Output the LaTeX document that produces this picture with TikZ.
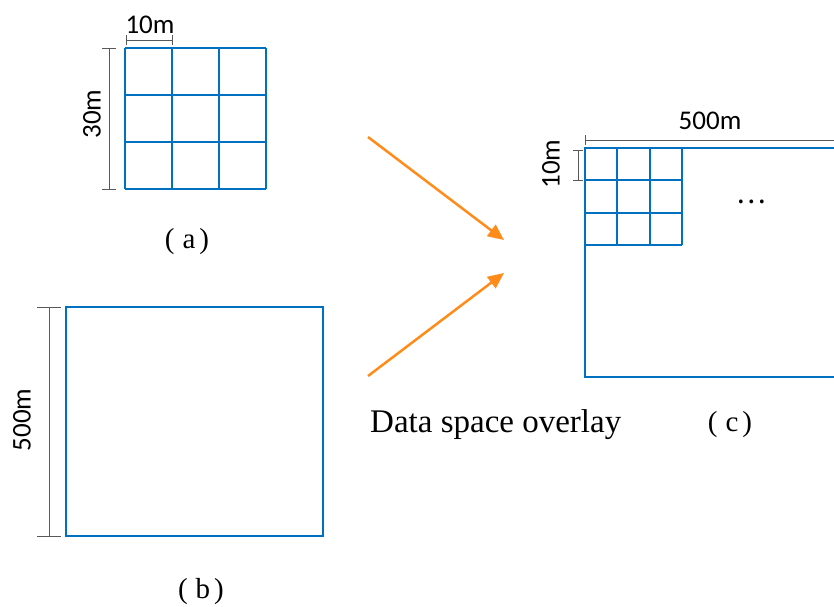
\documentclass[tikz,border=0pt]{standalone}
\usepackage{fontspec}
\setmainfont{Liberation Serif}
\newfontfamily\dimfont{Carlito}
\newfontfamily\cjk{Noto Sans CJK SC}
\usetikzlibrary{arrows.meta}
\definecolor{gridblue}{RGB}{0,112,192}
\definecolor{flow}{RGB}{255,140,26}
\definecolor{dimgray}{RGB}{89,89,89}
\tikzset{
  gridline/.style={draw=gridblue,line width=2pt},
  dimline/.style={draw=dimgray,line width=1pt},
  dimlabel/.style={font=\dimfont\fontsize{27}{31}\selectfont,inner sep=0pt},
  caption/.style={font=\fontsize{29}{33}\selectfont,inner sep=0pt},
  flowarrow/.style={draw=flow,line width=2.5pt,-{Triangle[length=16pt,width=14pt]}}
}
\newcommand{\fwpar}[1]{(\hspace{8pt}#1\hspace{4pt})}
\begin{document}
\begin{tikzpicture}[x=1pt,y=-1pt]
        \useasboundingbox (0,0) rectangle (834,606);

        % (a) 3x3 grid, 30m
        \coordinate (A1) at (125,48);
        \coordinate (A2) at (266,189);
        \foreach \i in {0,1,2,3} {
          \draw[gridline] (125+47*\i,48) -- (125+47*\i,189);
          \draw[gridline] (125,48+47*\i) -- (266,48+47*\i);
        }
        \coordinate (a10l) at (126,40);
        \coordinate (a10r) at (172,40);
        \draw[dimline] (a10l) -- (a10r);
        \draw[dimline] (a10l) ++(0,-5) -- ++(0,10);
        \draw[dimline] (a10r) ++(0,-5) -- ++(0,10);
        \node[dimlabel] (a10) at (150,25) {10m};

        \coordinate (a30t) at (109,48);
        \coordinate (a30b) at (109,189);
        \draw[dimline] (a30t) -- (a30b);
        \draw[dimline] (a30t) ++(-7,0) -- ++(14,0);
        \draw[dimline] (a30b) ++(-7,0) -- ++(14,0);
        \node[dimlabel,rotate=90] (a30) at (92,114) {30m};
        \node[caption] (capa) at (187,242) {\fwpar{a}};

        % (b) 500m block
        \coordinate (B1) at (66,307);
        \coordinate (B2) at (323,536);
        \draw[gridline] (B1) rectangle (B2);
        \coordinate (b500t) at (49,307);
        \coordinate (b500b) at (49,536);
        \draw[dimline] (b500t) -- (b500b);
        \draw[dimline] (b500t) ++(-12,0) -- ++(24,0);
        \draw[dimline] (b500b) ++(-12,0) -- ++(24,0);
        \node[dimlabel,rotate=90] (b500) at (22,420) {500m};
        \node[caption] (capb) at (201,592) {\fwpar{b}};

        % arrows
        \coordinate (ar1s) at (368,137);
        \coordinate (ar1e) at (504,240);
        \coordinate (ar2s) at (368,376);
        \coordinate (ar2e) at (504,273);
        \draw[flowarrow] (ar1s) -- (ar1e);
        \draw[flowarrow] (ar2s) -- (ar2e);
        \node[font=\fontsize{33}{38}\selectfont,inner sep=0pt,anchor=base west] (overlay) at (370,432) {Data space overlay};

        % (c) overlay, cut at right edge
        \coordinate (C1) at (585,148);
        \coordinate (C2) at (585,377);
        \draw[gridline] (840,148) -- (C1) -- (C2) -- (840,377);
        \foreach \i in {0,1,2,3} {
          \draw[gridline] (585+32.33*\i,148) -- (585+32.33*\i,245);
          \draw[gridline] (585,148+32.33*\i) -- (682,148+32.33*\i);
        }
        \coordinate (c500l) at (585,140);
        \coordinate (c500r) at (840,140);
        \draw[dimline] (c500l) -- (c500r);
        \draw[dimline] (c500l) ++(0,-5) -- ++(0,10);
        \node[dimlabel] (c500) at (710,121) {500m};

        \coordinate (c10t) at (578,150);
        \coordinate (c10b) at (578,180);
        \draw[dimline] (c10t) -- (c10b);
        \draw[dimline] (c10t) ++(-5,0) -- ++(10,0);
        \draw[dimline] (c10b) ++(-5,0) -- ++(10,0);
        \node[dimlabel,rotate=90] (c10) at (551,164) {10m};
        \node[font=\cjk\fontsize{28}{32}\selectfont,inner sep=0pt] (dots) at (751,202) {…};
        \node[caption] (capc) at (730,425) {\fwpar{c}};
    \end{tikzpicture}
\end{document}
